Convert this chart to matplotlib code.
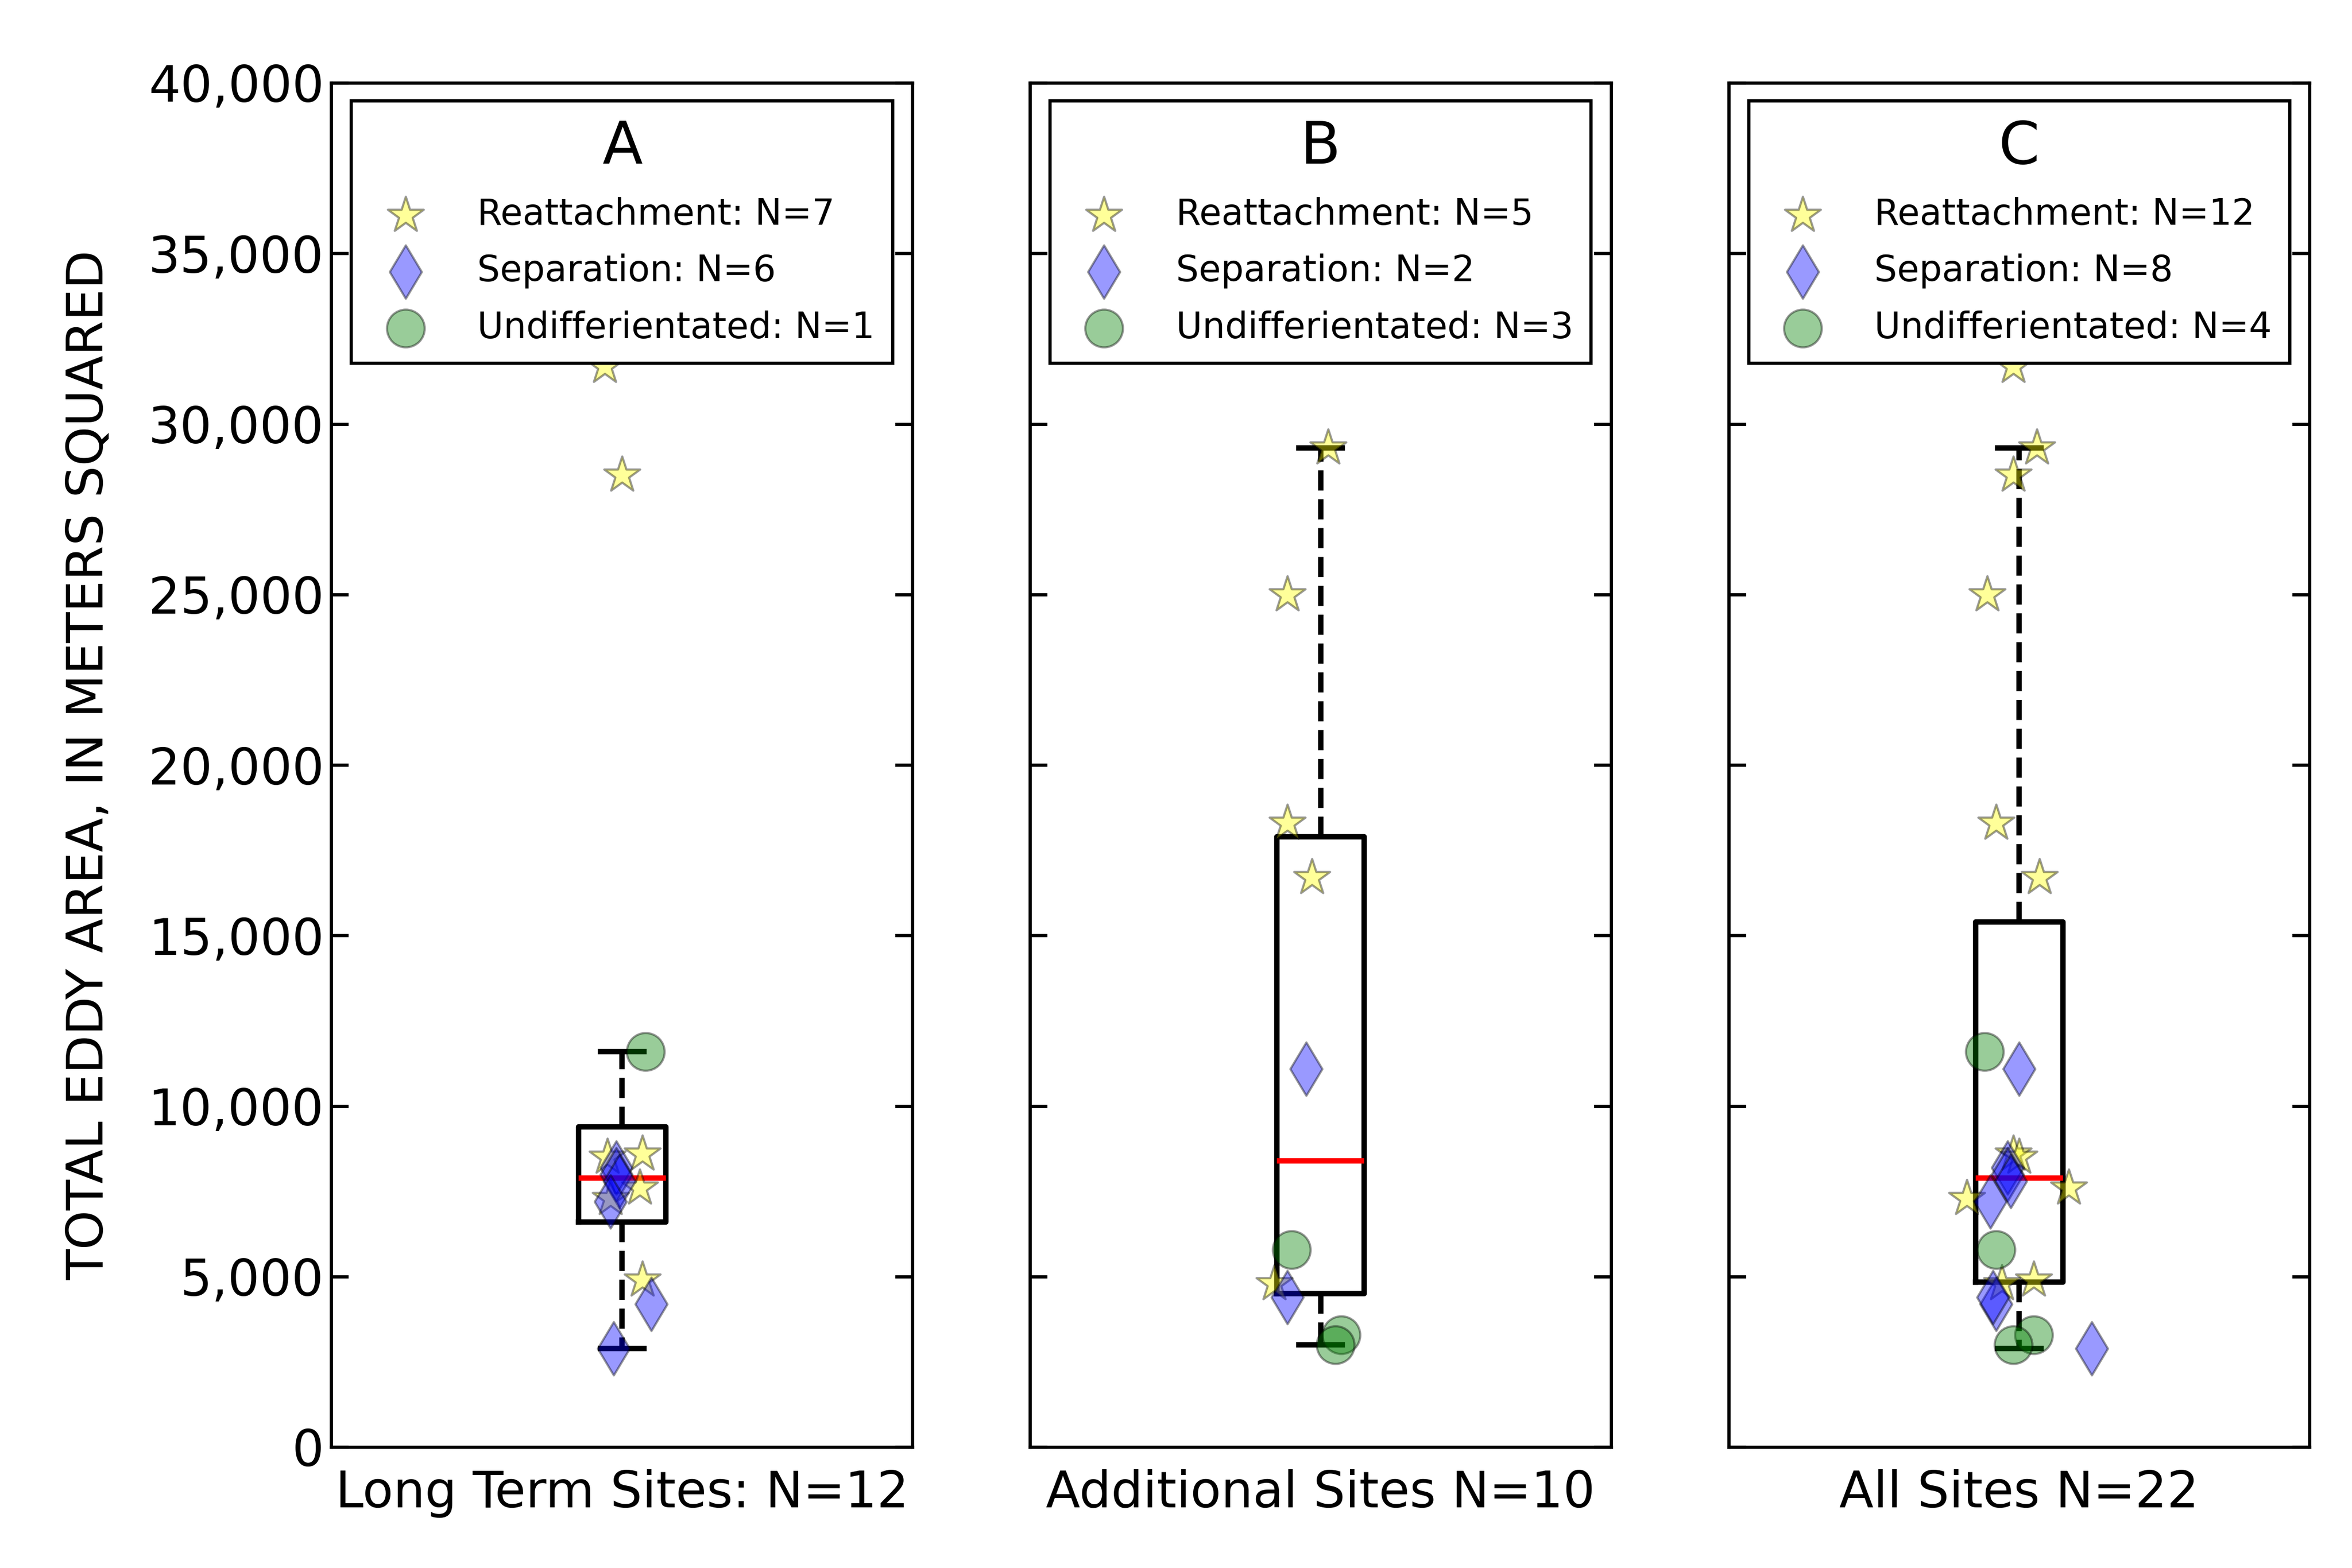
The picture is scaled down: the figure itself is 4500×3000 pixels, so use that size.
import numpy as np
import matplotlib
matplotlib.use('Agg')
import matplotlib.pyplot as plt
from matplotlib.ticker import FuncFormatter

# values (area, x offset from box centre)
a_reat = [31700, 28500, 8600, 8500, 7600, 7300, 4900]
a_reat_x = [-0.03, 0.0, 0.035, -0.025, 0.03, -0.02, 0.035]
a_sep = [8200, 8000, 7800, 7200, 4200, 2900]
a_sep_x = [-0.01, -0.01, -0.005, -0.02, 0.05, -0.015]
a_und = [11600]
a_und_x = [0.04]

b_reat = [29300, 25000, 18300, 16700, 4800]
b_reat_x = [0.013, -0.057, -0.057, -0.015, -0.08]
b_sep = [11100, 4400]
b_sep_x = [-0.025, -0.057]
b_und = [5800, 3300, 3000]
b_und_x = [-0.05, 0.035, 0.025]

c_reat = a_reat + b_reat
c_reat_x = [-0.01, -0.01, -0.01, 0.0, 0.085, -0.09, 0.025, 0.03, -0.055, -0.04, 0.035, -0.03]
c_sep = a_sep + b_sep
c_sep_x = [-0.02, -0.02, -0.015, -0.05, -0.04, 0.125, 0.0, -0.045]
c_und = a_und + b_und
c_und_x = [-0.06, -0.04, 0.025, -0.01]

# box statistics
box_med = [7900, 8400, 7900]
box_q1 = [6600, 4500, 4850]
box_q3 = [9400, 17900, 15400]
box_lo = [2900, 3000, 2900]
box_hi = [11600, 29300, 29300]

titles = ['A', 'B', 'C']
xlabels = ['Long Term Sites: N=12', 'Additional Sites N=10', 'All Sites N=22']

panels = [
    (a_reat, a_reat_x, a_sep, a_sep_x, a_und, a_und_x),
    (b_reat, b_reat_x, b_sep, b_sep_x, b_und, b_und_x),
    (c_reat, c_reat_x, c_sep, c_sep_x, c_und, c_und_x),
]

fig = plt.figure(figsize=(15, 10), dpi=300)
lefts = [0.141, 0.438, 0.735]
for i, (r, rx, s, sx, u, ux) in enumerate(panels):
    ax = fig.add_axes([lefts[i], 0.077, 0.247, 0.87])
    stats = [dict(med=box_med[i], q1=box_q1[i], q3=box_q3[i],
                  whislo=box_lo[i], whishi=box_hi[i], fliers=[])]
    ax.bxp(stats, positions=[1], widths=0.15,
           boxprops=dict(color='black', lw=2.5),
           whiskerprops=dict(color='black', lw=2.5, linestyle='--'),
           capprops=dict(color='black', lw=2.5),
           medianprops=dict(color='red', lw=2.5))
    ax.scatter(1 + np.array(rx), r, marker='*', s=300, c='yellow', edgecolors='k',
               alpha=0.4, label='Reattachment: N=%d' % len(r), zorder=3)
    ax.scatter(1 + np.array(sx), s, marker='d', s=300, c='blue', edgecolors='k',
               alpha=0.4, label='Separation: N=%d' % len(s), zorder=3)
    ax.scatter(1 + np.array(ux), u, marker='o', s=300, c='green', edgecolors='k',
               alpha=0.4, label='Undifferientated: N=%d' % len(u), zorder=3)
    ax.set_xlim(0.5, 1.5)
    ax.set_ylim(0, 40000)
    ax.set_xticks([1])
    ax.set_xticklabels([xlabels[i]], fontsize=23)
    ax.tick_params(direction='in', length=8, width=1.5, top=False, right=True)
    ax.tick_params(axis='x', length=0, pad=10)
    for sp in ax.spines.values():
        sp.set_linewidth(1.5)
    if i == 0:
        ax.yaxis.set_major_formatter(FuncFormatter(lambda v, p: '{:,.0f}'.format(v)))
        ax.tick_params(axis='y', labelsize=23)
        ax.set_ylabel('TOTAL EDDY AREA, IN METERS SQUARED', fontsize=23, labelpad=16)
    else:
        ax.set_yticklabels([])
    leg = ax.legend(loc='upper center', title=titles[i], fontsize=16.5,
                    fancybox=False, edgecolor='black', framealpha=1,
                    borderpad=0.5, handletextpad=1.0, labelspacing=0.6)
    leg.get_title().set_fontsize(27)
    leg.get_frame().set_linewidth(1.5)

plt.savefig('out.png')
